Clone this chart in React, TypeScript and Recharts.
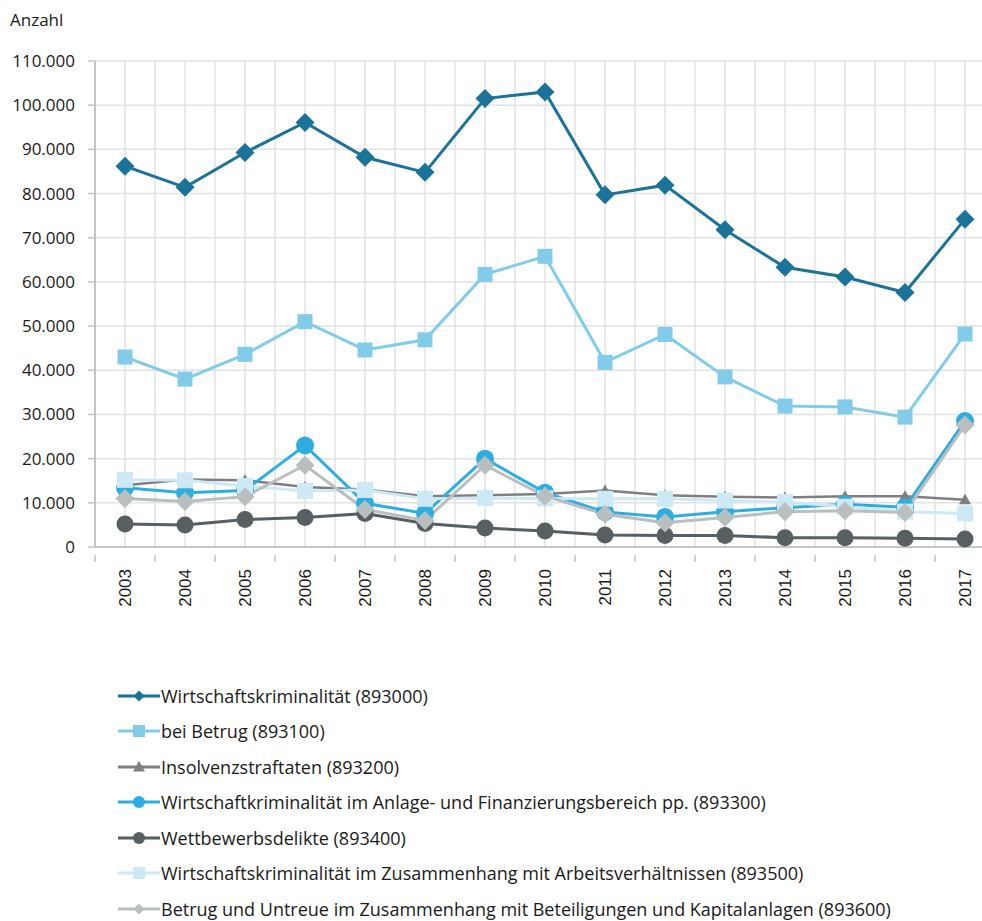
import React from 'react';
import { LineChart, Line, XAxis, YAxis, CartesianGrid, Legend } from 'recharts';

const years = ['2003', '2004', '2005', '2006', '2007', '2008', '2009', '2010', '2011', '2012', '2013', '2014', '2015', '2016', '2017'];

const wirtschaft = [86200, 81400, 89300, 96100, 88200, 84800, 101500, 103000, 79700, 81900, 71800, 63300, 61100, 57600, 74200];
const betrug = [43000, 38000, 43600, 51000, 44600, 46900, 61700, 65800, 41800, 48100, 38500, 31900, 31700, 29400, 48200];
const insolvenz = [14000, 15300, 15100, 13600, 13000, 11500, 11700, 12000, 12800, 11700, 11400, 11200, 11500, 11500, 10700];
const anlage = [13400, 12300, 12800, 23000, 9900, 7600, 20000, 12300, 7900, 6800, 8000, 8900, 9700, 9000, 28500];
const wettbewerb = [5200, 5000, 6200, 6700, 7600, 5300, 4300, 3600, 2700, 2600, 2600, 2100, 2100, 2000, 1800];
const arbeits = [15200, 15100, 13800, 12700, 12900, 10900, 11100, 11000, 10900, 10900, 10500, 10200, 9100, 8000, 7600];
const untreue = [11000, 10300, 11400, 18500, 8500, 6000, 18500, 11500, 7400, 5500, 6700, 8000, 8200, 7800, 27600];

const yTicks = [0, 10000, 20000, 30000, 40000, 50000, 60000, 70000, 80000, 90000, 100000, 110000];

type Shape = 'diamond' | 'square' | 'triangle' | 'circle';

const series: { key: string; name: string; values: number[]; color: string; shape: Shape; size: number; width: number }[] = [
  { key: 's1', name: 'Wirtschaftskriminalität (893000)', values: wirtschaft, color: '#1b7399', shape: 'diamond', size: 9.5, width: 3 },
  { key: 's2', name: 'bei Betrug (893100)', values: betrug, color: '#82ccea', shape: 'square', size: 7.5, width: 3 },
  { key: 's3', name: 'Insolvenzstraftaten (893200)', values: insolvenz, color: '#7f7f7f', shape: 'triangle', size: 6, width: 2.5 },
  { key: 's4', name: 'Wirtschaftkriminalität im Anlage- und Finanzierungsbereich pp. (893300)', values: anlage, color: '#2eaee0', shape: 'circle', size: 9, width: 3 },
  { key: 's5', name: 'Wettbewerbsdelikte (893400)', values: wettbewerb, color: '#575f63', shape: 'circle', size: 8.5, width: 3 },
  { key: 's6', name: 'Wirtschaftskriminalität im Zusammenhang mit Arbeitsverhältnissen (893500)', values: arbeits, color: '#cde9f6', shape: 'square', size: 8, width: 3 },
  { key: 's7', name: 'Betrug und Untreue im Zusammenhang mit Beteiligungen und Kapitalanlagen (893600)', values: untreue, color: '#b9bebf', shape: 'diamond', size: 9.5, width: 3 },
];

const data = years.map((y, i) => {
  const row: Record<string, number | string> = { idx: i, year: y };
  series.forEach((s) => {
    row[s.key] = s.values[i];
  });
  return row;
});

const xTicks: number[] = [];
for (let i = -1; i < years.length; i++) {
  xTicks.push(i + 0.5);
  if (i + 1 < years.length) xTicks.push(i + 1);
}
xTicks.sort((a, b) => a - b);

const fmt = (v: number) => String(v).replace(/\B(?=(\d{3})+(?!\d))/g, '.');

function marker(shape: Shape, cx: number, cy: number, r: number, color: string, key?: string) {
  if (shape === 'circle') return <circle key={key} cx={cx} cy={cy} r={r} fill={color} />;
  if (shape === 'square') return <rect key={key} x={cx - r} y={cy - r} width={2 * r} height={2 * r} fill={color} />;
  if (shape === 'diamond')
    return <polygon key={key} points={`${cx},${cy - r} ${cx + r},${cy} ${cx},${cy + r} ${cx - r},${cy}`} fill={color} />;
  return <polygon key={key} points={`${cx},${cy - r} ${cx + r},${cy + r * 0.75} ${cx - r},${cy + r * 0.75}`} fill={color} />;
}

const makeDot = (shape: Shape, r: number, color: string) => (props: any) => {
  const { cx, cy, index } = props;
  if (cx == null || cy == null) return <g key={`e${index}`} />;
  return marker(shape, cx, cy, r, color, `d${index}`);
};

const XTick = (props: any) => {
  const { x, y, payload } = props;
  const v = payload.value as number;
  if (Number.isInteger(v)) {
    return (
      <g transform={`translate(${x},${y})`}>
        <text
          transform="rotate(-90)"
          x={-14}
          y={0}
          dy="0.36em"
          textAnchor="end"
          fontFamily="'Liberation Sans', Arial, sans-serif"
          fontSize={17}
          fill="#1a1a1a"
        >
          {years[v]}
        </text>
      </g>
    );
  }
  return <line x1={x} y1={y} x2={x} y2={y + 7} stroke="#c4c4c4" strokeWidth={1.5} />;
};

const renderLegend = () => (
  <div style={{ fontFamily: "'Open Sans', sans-serif", fontSize: 18, color: '#1a1a1a' }}>
    {series.map((s) => (
      <div key={s.key} style={{ display: 'flex', alignItems: 'center', height: 35.5, whiteSpace: 'nowrap' }}>
        <svg width={42} height={20} style={{ display: 'block' }}>
          <line x1={0} y1={10} x2={42} y2={10} stroke={s.color} strokeWidth={3} />
          {marker(s.shape, 21, 10, s.shape === 'triangle' ? 6 : s.shape === 'diamond' ? 5.5 : 6, s.color)}
        </svg>
        <span style={{ marginLeft: 1 }}>{s.name}</span>
      </div>
    ))}
  </div>
);

const AnzahlLabel = (props: any) => {
  const vb = props.viewBox || { x: 0, y: 61 };
  return (
    <text x={vb.x + 10} y={vb.y - 35} fontFamily="'Open Sans', sans-serif" fontSize={17} fill="#1a1a1a">
      Anzahl
    </text>
  );
};

export default function App() {
  return (
    <div style={{ position: 'absolute', left: 0, top: 0, width: 982, height: 921, overflow: 'hidden', background: '#fff' }}>
      <LineChart width={1000} height={921} data={data} margin={{ top: 61, right: 5, left: 0, bottom: 314 }}>
        <CartesianGrid stroke="#e2e2e2" strokeWidth={1.5} />
        <XAxis
          dataKey="idx"
          type="number"
          domain={[-0.5, 14.5]}
          ticks={xTicks}
          interval={0}
          tick={<XTick />}
          tickLine={false}
          axisLine={{ stroke: '#c4c4c4', strokeWidth: 2 }}
          height={60}
        />
        <YAxis
          domain={[0, 110000]}
          ticks={yTicks}
          interval={0}
          width={95}
          tickFormatter={fmt}
          tickSize={7}
          tickMargin={13}
          tickLine={{ stroke: '#c4c4c4', strokeWidth: 1.5 }}
          axisLine={{ stroke: '#c4c4c4', strokeWidth: 2 }}
          tick={{ fontFamily: "'Open Sans', sans-serif", fontSize: 17, fill: '#1a1a1a' }}
          label={<AnzahlLabel />}
        />
        <Legend
          layout="vertical"
          align="center"
          verticalAlign="middle"
          content={renderLegend}
          wrapperStyle={{ top: 678, left: 118, width: 'auto', height: 'auto' }}
        />
        {series.map((s) => (
          <Line
            key={s.key}
            dataKey={s.key}
            name={s.name}
            stroke={s.color}
            strokeWidth={s.width}
            dot={makeDot(s.shape, s.size, s.color)}
            activeDot={false}
            isAnimationActive={false}
          />
        ))}
      </LineChart>
    </div>
  );
}
